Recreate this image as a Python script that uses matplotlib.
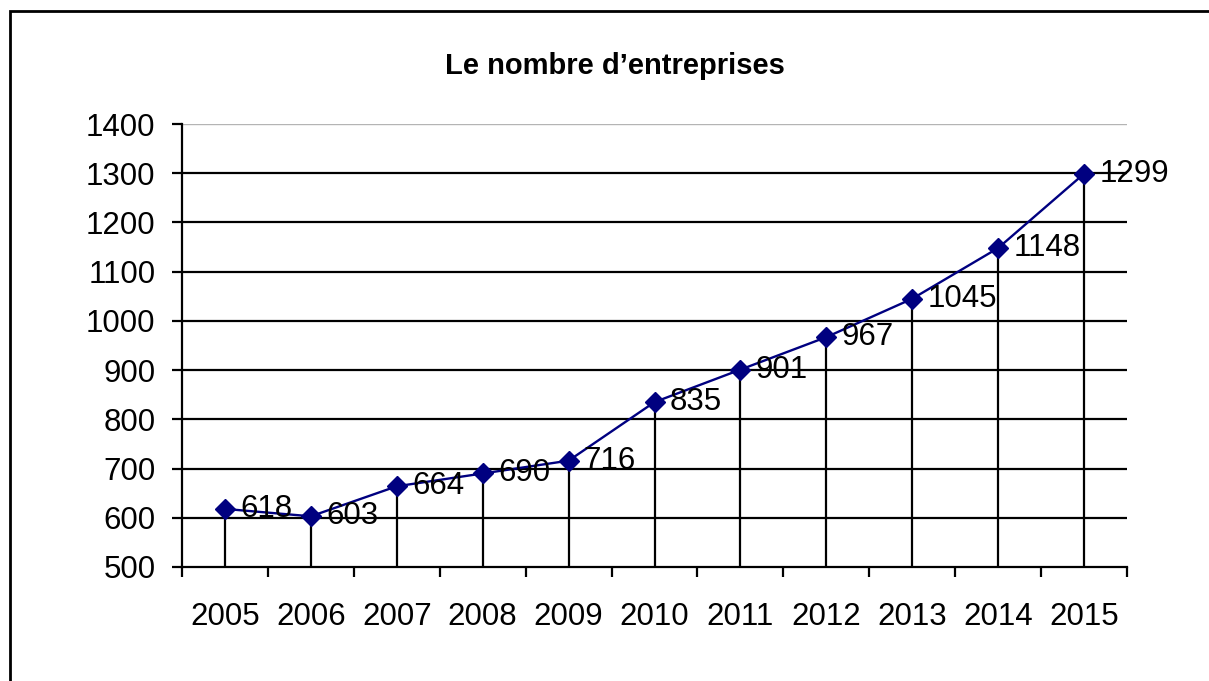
import matplotlib.pyplot as plt
import matplotlib.patches as patches
from matplotlib import font_manager
import numpy as np

years = ['2005', '2006', '2007', '2008', '2009', '2010',
         '2011', '2012', '2013', '2014', '2015']
entreprises = [618, 603, 664, 690, 716, 835, 901, 967, 1045, 1148, 1299]
y_ticks = [500, 600, 700, 800, 900, 1000, 1100, 1200, 1300, 1400]

# narrow Arial-like face when there is one, plain otherwise
names = {f.name for f in font_manager.fontManager.ttflist}
if 'Liberation Sans Narrow' in names:
    plt.rcParams['font.family'] = ['Liberation Sans Narrow', 'DejaVu Sans']
    fs, title_fs = 23, 22
else:
    plt.rcParams['font.family'] = ['Liberation Sans', 'DejaVu Sans']
    fs, title_fs = 22.5, 21

fig = plt.figure(figsize=(12.09, 6.81), dpi=100)
ax = fig.add_axes([182 / 1209, 1 - 567 / 681, (1127 - 182) / 1209, (567 - 124) / 681])

x = np.arange(len(years))

# horizontal grid, the top one is lighter
for yv in y_ticks[1:-1]:
    ax.axhline(yv, color='black', lw=1.6, zorder=1)
ax.axhline(y_ticks[-1], color='#b4b4b4', lw=1.0, zorder=1)

# drop lines down to the axis
ax.vlines(x, y_ticks[0], entreprises, color='black', lw=1.6, zorder=2)

ax.plot(x, entreprises, color='#000080', lw=1.7, marker='D', markersize=10,
        markerfacecolor='#000080', markeredgecolor='#000080', zorder=3, clip_on=False)

for xi, v in zip(x, entreprises):
    ax.annotate(str(v), (xi, v), xytext=(11, 0), textcoords='offset points',
                ha='left', va='center', fontsize=fs, zorder=4)

ax.set_xlim(-0.5, len(years) - 0.5)
ax.set_ylim(y_ticks[0], y_ticks[-1])
ax.set_yticks(y_ticks)
ax.set_xticks(x, years)
ax.set_xticks(np.arange(len(years) + 1) - 0.5, minor=True)

ax.tick_params(axis='x', which='major', length=0, pad=25, labelsize=fs)
ax.tick_params(axis='x', which='minor', length=7, width=1.6, direction='out')
ax.tick_params(axis='y', length=7, width=1.6, direction='out', pad=12, labelsize=fs)

for side in ['top', 'right']:
    ax.spines[side].set_visible(False)
ax.spines['left'].set_linewidth(1.6)
ax.spines['bottom'].set_linewidth(1.6)

fig.text(615 / 1209, 1 - 66 / 681, 'Le nombre d\u2019entreprises', ha='center', va='center',
         fontsize=title_fs, fontweight='bold')

# outer frame around the whole chart
frame = patches.Rectangle((10 / 1209, -0.1), 1.2, 1.1 - 11 / 681, transform=fig.transFigure,
                          fill=False, edgecolor='black', lw=2.0, clip_on=False)
fig.patches.append(frame)

plt.savefig('out.png', dpi=100)
